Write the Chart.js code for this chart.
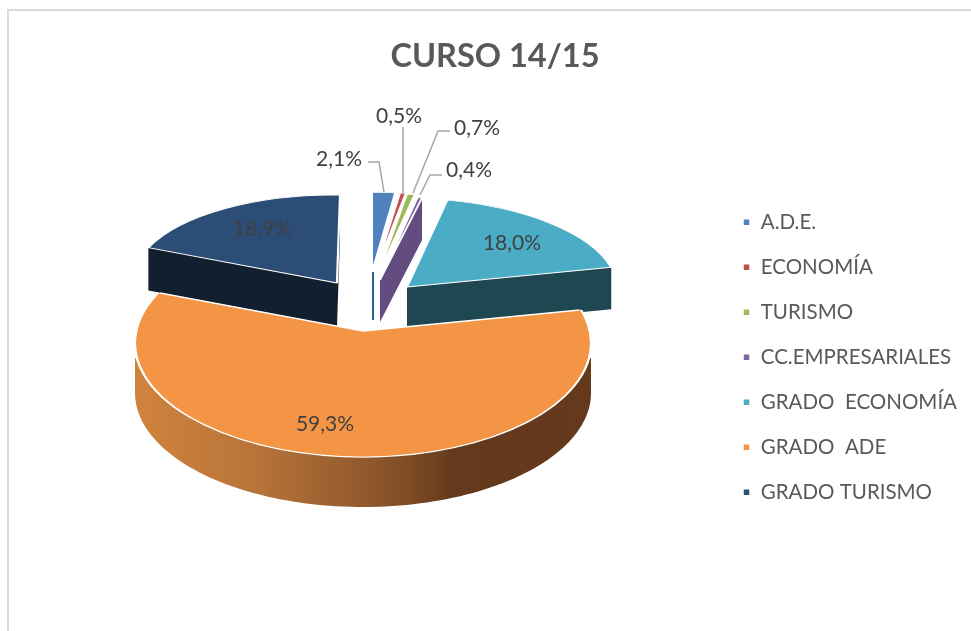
<!DOCTYPE html>
<html>
<head>
<meta charset="utf-8">
<style>html,body{margin:0;padding:0;background:#fff}canvas{display:block}</style>
<script src="https://cdn.jsdelivr.net/npm/chart.js@4"></script>
</head>
<body>
<div style="width:971px;height:631px"><canvas id="c" width="971" height="631"></canvas></div>
<script>
const chartTitle = 'CURSO 14/15';
const categories = ['A.D.E.', 'ECONOMÍA', 'TURISMO', 'CC.EMPRESARIALES', 'GRADO  ECONOMÍA', 'GRADO  ADE', 'GRADO TURISMO'];
const shares = [2.1, 0.5, 0.7, 0.4, 18.0, 59.3, 18.9];
const topColors = ['#4f81bd', '#c0504d', '#9bbb59', '#8064a2', '#4bacc6', '#f49546', '#2c4d75'];
const wallColors = [null, null, null, '#634c7f', '#1f4751', 'gradient', '#111f2e'];
const font = 'Lato, Carlito, sans-serif';
const pieCentre = {x: 368, y: 308};
const pieRadius = 228;

// Projection of each exploded slice: shift from pie centre, linear map (sx, kx, ky, sy), wall depth
const views = [
  {dx: 4, dy: -36, sx: .77, sy: .35, depth: 0},
  {dx: 7, dy: -36, sx: .83, sy: .35, depth: 0},
  {dx: 10, dy: -33, sx: .78, sy: .36, depth: 0},
  {dx: 12, dy: -28, sx: .80, sy: .37, depth: 42},
  {dx: 39, dy: -21, sx: .923, sy: .39, kx: .0375, ky: -.0067, depth: 42},
  {dx: -5, dy: 23, sx: 1, sy: .465, depth: 50, frontDy: 35, frontSy: .5},
  {dx: -31, dy: -25, sx: .897, sy: .386, kx: -.0132, ky: .0123, depth: 43}
];
const drawOrder = [6, 4, 0, 1, 2, 3, 5];

// Data label placement, relative to the pie centre: label centre, then leader polyline
const labelLayout = [
  {x: -29, y: -149, leader: [[0, -146], [11, -146], [16, -116]]},
  {x: 31, y: -192, leader: [[35, -181], [35, -115]]},
  {x: 109, y: -180, leader: [[82, -177], [70, -177], [45, -115]]},
  {x: 101, y: -138, leader: [[74, -133], [62, -133], [52, -113]]},
  {x: 144, y: -65},
  {x: -43, y: 116},
  {x: -106, y: -79}
];
const labelText = v => v.toFixed(1).replace('.', ',') + '%';

function place(ctx, arc, dx, dy, sx, sy, kx, ky) {
  ctx.translate(arc.x + dx, arc.y + dy);
  ctx.transform(sx, ky || 0, kx || 0, sy, 0, 0);
  ctx.translate(-arc.x, -arc.y);
}
function clipBand(ctx, chart, y0, y1) {
  ctx.beginPath();
  ctx.rect(0, y0, chart.width, y1 - y0);
  ctx.clip();
}
function wedge(ctx, arc, r) {
  ctx.beginPath();
  ctx.moveTo(arc.x, arc.y);
  ctx.arc(arc.x, arc.y, r || arc.outerRadius, arc.startAngle, arc.endAngle);
  ctx.closePath();
}
function hull(points) {
  const p = points.slice().sort((a, b) => a[0] - b[0] || a[1] - b[1]);
  const cross = (o, a, b) => (a[0] - o[0]) * (b[1] - o[1]) - (a[1] - o[1]) * (b[0] - o[0]);
  const half = list => {
    const out = [];
    for (const q of list) {
      while (out.length > 1 && cross(out[out.length - 2], out[out.length - 1], q) <= 0) out.pop();
      out.push(q);
    }
    out.pop();
    return out;
  };
  return half(p).concat(half(p.reverse()));
}
// Side wall: outline of the slice swept straight down by its depth
function drawWall(ctx, arc, v, dy, sy, color) {
  const ox = arc.x + v.dx, oy = arc.y + dy;
  const project = (x, y) => [ox + v.sx * x + (v.kx || 0) * y, oy + (v.ky || 0) * x + sy * y];
  const pts = [project(0, 0)];
  const steps = 120;
  for (let k = 0; k <= steps; k++) {
    const a = arc.startAngle + (arc.endAngle - arc.startAngle) * k / steps;
    pts.push(project(arc.outerRadius * Math.cos(a), arc.outerRadius * Math.sin(a)));
  }
  const swept = pts.concat(pts.map(q => [q[0], q[1] + v.depth]));
  const outline = hull(swept);
  ctx.beginPath();
  outline.forEach((q, k) => k ? ctx.lineTo(q[0], q[1]) : ctx.moveTo(q[0], q[1]));
  ctx.closePath();
  if (color === 'gradient') {
    const g = ctx.createLinearGradient(ox - arc.outerRadius, 0, ox + arc.outerRadius, 0);
    g.addColorStop(0, '#d0833d');
    g.addColorStop(.26, '#b8743a');
    g.addColorStop(.55, '#8a5429');
    g.addColorStop(.70, '#643a1c');
    g.addColorStop(1, '#65391b');
    ctx.fillStyle = g;
  } else {
    ctx.fillStyle = color;
  }
  ctx.fill();
}
// The large front slice: its rim is one ellipse, its two cut edges meet at a point further back
function drawFrontSlice(ctx, chart, arc, v) {
  const split = arc.y + v.frontDy;
  ctx.save();
  clipBand(ctx, chart, split + 15, chart.height);
  drawWall(ctx, arc, v, v.frontDy, v.frontSy, wallColors[5]);
  ctx.restore();

  // rim and body, cut by the two edges
  ctx.save();
  place(ctx, arc, v.dx, v.dy, v.sx, v.sy);
  wedge(ctx, arc, arc.outerRadius * 3);
  ctx.setTransform(1, 0, 0, 1, 0, 0);
  ctx.clip();
  place(ctx, arc, v.dx, v.frontDy, v.sx, v.frontSy);
  const s = arc.startAngle, e = arc.endAngle;
  arc.startAngle = s - .5;
  arc.endAngle = e + .5;
  arc.draw(ctx);
  arc.startAngle = s;
  arc.endAngle = e;
  ctx.restore();

  // fill the point of the slice, then its white cut edges
  ctx.save();
  place(ctx, arc, v.dx, v.frontDy, v.sx, v.frontSy);
  ctx.beginPath();
  ctx.arc(arc.x, arc.y, arc.outerRadius - 1.5, 0, Math.PI * 2);
  ctx.setTransform(1, 0, 0, 1, 0, 0);
  ctx.clip();
  place(ctx, arc, v.dx, v.dy, v.sx, v.sy);
  wedge(ctx, arc, arc.outerRadius * 3);
  ctx.setTransform(1, 0, 0, 1, 0, 0);
  ctx.fillStyle = arc.options.backgroundColor;
  ctx.fill();
  ctx.strokeStyle = '#ffffff';
  ctx.lineWidth = 1.5;
  ctx.stroke();
  ctx.restore();
}

const pie3d = {
  id: 'pie3d',
  beforeDraw(chart) {
    const ctx = chart.ctx;
    ctx.save();
    ctx.strokeStyle = '#d9d9d9';
    ctx.lineWidth = 2;
    ctx.beginPath();
    ctx.moveTo(8, chart.height);
    ctx.lineTo(8, 10);
    ctx.lineTo(chart.width, 10);
    ctx.stroke();
    ctx.restore();
  },
  afterLayout(chart) {
    // centre the plot area on the pie and put the legend where the reference has it
    const a = chart.chartArea;
    a.left = pieCentre.x - pieRadius; a.right = pieCentre.x + pieRadius;
    a.top = pieCentre.y - pieRadius; a.bottom = pieCentre.y + pieRadius;
    a.width = a.right - a.left; a.height = a.bottom - a.top;
    const l = chart.legend;
    l.left = 718; l.right = l.left + l.width;
    l.top = 187.5; l.bottom = l.top + l.height + 40;
  },
  beforeDatasetDraw(chart) {
    const ctx = chart.ctx;
    const arcs = chart.getDatasetMeta(0).data;
    for (const i of drawOrder) {
      const arc = arcs[i], v = views[i];
      if (v.frontSy) {
        drawFrontSlice(ctx, chart, arc, v);
        continue;
      }
      if (wallColors[i]) drawWall(ctx, arc, v, v.dy, v.sy, wallColors[i]);
      if (i === 0) {
        ctx.save();
        ctx.strokeStyle = '#2e5f93';
        ctx.lineWidth = 2;
        ctx.beginPath();
        ctx.moveTo(arc.x + v.dx + 1, arc.y + v.dy);
        ctx.lineTo(arc.x + v.dx + 1, arc.y + v.dy + 48);
        ctx.stroke();
        ctx.restore();
      }
      ctx.save();
      place(ctx, arc, v.dx, v.dy, v.sx, v.sy, v.kx, v.ky);
      arc.draw(ctx);
      ctx.restore();
    }
    return false;
  },
  afterDatasetsDraw(chart) {
    const ctx = chart.ctx;
    const arc0 = chart.getDatasetMeta(0).data[0];
    ctx.save();
    ctx.font = '21px ' + font;
    ctx.textAlign = 'center';
    ctx.textBaseline = 'middle';
    shares.forEach((s, i) => {
      const p = labelLayout[i];
      if (p.leader) {
        ctx.strokeStyle = '#a6a6a6';
        ctx.lineWidth = 1.5;
        ctx.beginPath();
        p.leader.forEach(([x, y], k) => k ? ctx.lineTo(arc0.x + x, arc0.y + y) : ctx.moveTo(arc0.x + x, arc0.y + y));
        ctx.stroke();
      }
      ctx.fillStyle = '#404040';
      ctx.fillText(labelText(s), arc0.x + p.x, arc0.y + p.y);
    });
    ctx.restore();
  }
};

new Chart(document.getElementById('c'), {
  type: 'pie',
  data: {
    labels: categories,
    datasets: [{
      data: shares,
      backgroundColor: topColors,
      borderColor: '#ffffff',
      borderWidth: 2.5,
      radius: pieRadius
    }]
  },
  plugins: [pie3d],
  options: {
    responsive: false,
    animation: false,
    layout: {padding: {left: 19, right: 0}},
    plugins: {
      tooltip: {enabled: false},
      title: {
        display: true,
        text: chartTitle,
        color: '#595959',
        font: {family: font, size: 32.5, weight: 'bold'},
        padding: {top: 37, bottom: 10}
      },
      legend: {
        position: 'right',
        align: 'start',
        labels: {
          boxWidth: 8,
          boxHeight: 8,
          padding: 24.5,
          color: '#595959',
          font: {family: font, size: 20.5}
        }
      }
    }
  }
});
</script>
</body>
</html>
